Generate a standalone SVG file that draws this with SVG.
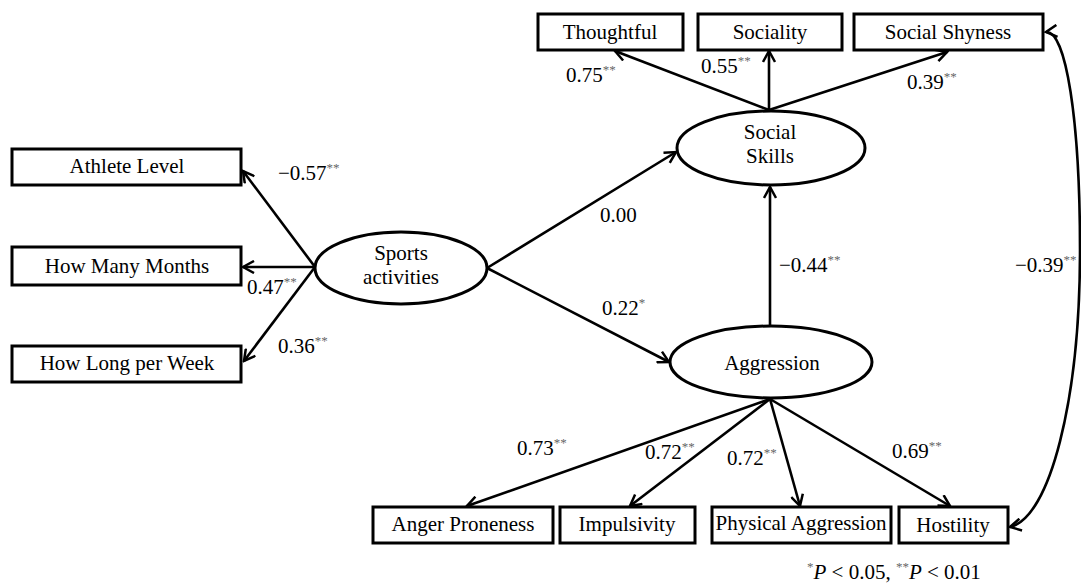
<svg xmlns="http://www.w3.org/2000/svg" width="1081" height="584" viewBox="0 0 1081 584">
<defs>
<marker id="arr" viewBox="0 0 14 14" refX="12" refY="7" markerWidth="14" markerHeight="14" markerUnits="userSpaceOnUse" orient="auto-start-reverse">
<path d="M1,1 L12,7 L1,13" fill="none" stroke="#000" stroke-width="2.5" stroke-linejoin="miter"/>
</marker>
</defs>
<style>
.box{fill:#fff;stroke:#000;stroke-width:3}
.ell{fill:#fff;stroke:#000;stroke-width:3}
.t{font-family:"Liberation Serif","Times New Roman",serif;font-size:21px;fill:#000}
.c{text-anchor:middle}
.sup{font-size:13px;fill:#666}
.ln{stroke:#000;stroke-width:2.6;fill:none;marker-end:url(#arr)}
.it{font-style:italic}
</style>
<rect width="1081" height="584" fill="#fff"/>
<g id="connectors">
<line class="ln" x1="315" y1="267" x2="243" y2="171"/>
<line class="ln" x1="315" y1="267" x2="243" y2="267"/>
<line class="ln" x1="315" y1="267" x2="244" y2="361"/>
<line class="ln" x1="487" y1="268" x2="676" y2="152"/>
<line class="ln" x1="487" y1="268" x2="669" y2="362"/>
<line class="ln" x1="770" y1="326" x2="770" y2="187"/>
<line class="ln" x1="769" y1="110" x2="615" y2="51"/>
<line class="ln" x1="769" y1="110" x2="769" y2="51"/>
<line class="ln" x1="769" y1="110" x2="947" y2="52"/>
<line class="ln" x1="770" y1="399" x2="467" y2="506"/>
<line class="ln" x1="770" y1="399" x2="630" y2="506"/>
<line class="ln" x1="770" y1="399" x2="800" y2="506"/>
<line class="ln" x1="770" y1="399" x2="950" y2="506"/>
<path class="ln" style="marker-start:url(#arr)" d="M1046,32 C1066,30 1080,120 1080,250 C1080,400 1050,518 1010,527"/>
</g>
<g id="athlete-level"><rect class="box" x="12" y="149" width="229" height="36"/><text class="t c" x="127" y="173">Athlete Level</text></g>
<g id="how-many-months"><rect class="box" x="12" y="247" width="229" height="38"/><text class="t c" x="127" y="273">How Many Months</text></g>
<g id="how-long-per-week"><rect class="box" x="12" y="346" width="229" height="36"/><text class="t c" x="127" y="370">How Long per Week</text></g>
<g id="sports-activities"><ellipse class="ell" cx="401" cy="268" rx="86" ry="36"/><text class="t c" x="401" y="260">Sports</text><text class="t c" x="401" y="284">activities</text></g>
<g id="social-skills"><ellipse class="ell" cx="771" cy="148" rx="94" ry="37"/><text class="t c" x="770" y="139">Social</text><text class="t c" x="770" y="163">Skills</text></g>
<g id="aggression"><ellipse class="ell" cx="771" cy="362" rx="101" ry="36"/><text class="t c" x="772" y="370">Aggression</text></g>
<g id="thoughtful"><rect class="box" x="538" y="14" width="145" height="36"/><text class="t c" x="610" y="39">Thoughtful</text></g>
<g id="sociality"><rect class="box" x="698" y="14" width="144" height="36"/><text class="t c" x="770" y="39">Sociality</text></g>
<g id="social-shyness"><rect class="box" x="854" y="14" width="189" height="36"/><text class="t c" x="948" y="39">Social Shyness</text></g>
<g id="anger-proneness"><rect class="box" x="373" y="507" width="180" height="36"/><text class="t c" x="463" y="531">Anger Proneness</text></g>
<g id="impulsivity"><rect class="box" x="560" y="507" width="135" height="36"/><text class="t c" x="627" y="531">Impulsivity</text></g>
<g id="physical-aggression"><rect class="box" x="712" y="507" width="179" height="36"/><text class="t c" x="801" y="530">Physical Aggression</text></g>
<g id="hostility"><rect class="box" x="899" y="507" width="109" height="36"/><text class="t c" x="953" y="532">Hostility</text></g>
<g id="labels">
<text class="t" x="278" y="180">−0.57<tspan class="sup" dy="-8">**</tspan></text>
<text class="t" x="247" y="294">0.47<tspan class="sup" dy="-8">**</tspan></text>
<text class="t" x="278" y="353">0.36<tspan class="sup" dy="-8">**</tspan></text>
<text class="t" x="600" y="222">0.00</text>
<text class="t" x="602" y="315">0.22<tspan class="sup" dy="-8">*</tspan></text>
<text class="t" x="779" y="272">−0.44<tspan class="sup" dy="-8">**</tspan></text>
<text class="t" x="566" y="82">0.75<tspan class="sup" dy="-8">**</tspan></text>
<text class="t" x="701" y="73">0.55<tspan class="sup" dy="-8">**</tspan></text>
<text class="t" x="907" y="89">0.39<tspan class="sup" dy="-8">**</tspan></text>
<text class="t" x="1015" y="272">−0.39<tspan class="sup" dy="-8">**</tspan></text>
<text class="t" x="517" y="455">0.73<tspan class="sup" dy="-8">**</tspan></text>
<text class="t" x="645" y="459">0.72<tspan class="sup" dy="-8">**</tspan></text>
<text class="t" x="727" y="465">0.72<tspan class="sup" dy="-8">**</tspan></text>
<text class="t" x="892" y="458">0.69<tspan class="sup" dy="-8">**</tspan></text>
<text class="t" x="807" y="579"><tspan class="sup" dy="-8">*</tspan><tspan class="it" dy="8">P</tspan> &lt; 0.05, <tspan class="sup" dy="-8">**</tspan><tspan class="it" dy="8">P</tspan> &lt; 0.01</text>
</g>
</svg>
